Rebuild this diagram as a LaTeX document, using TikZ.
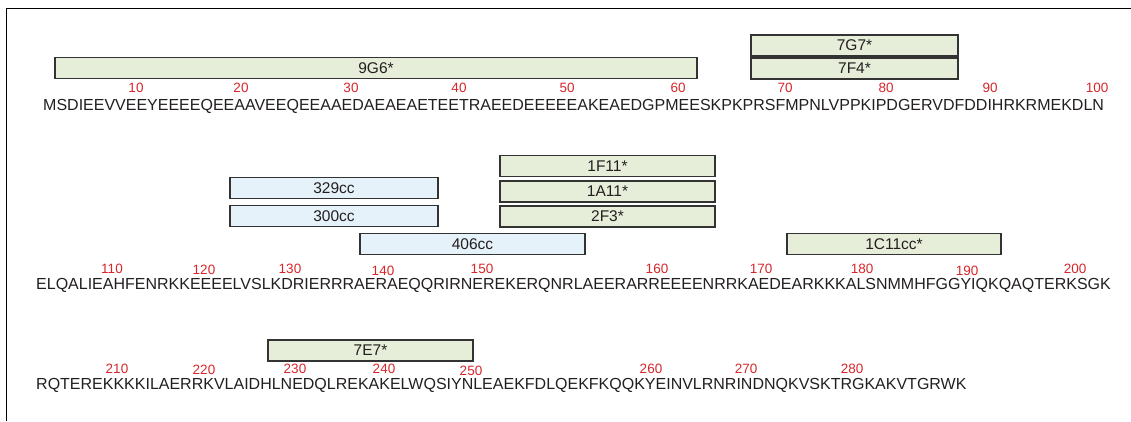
\documentclass[tikz,border=0pt]{standalone}
\usepackage{fontspec}
\setmainfont{Liberation Sans}
\definecolor{seqtext}{HTML}{231F20}
\definecolor{numred}{HTML}{D7262B}
\definecolor{grfill}{HTML}{E6EDD8}
\definecolor{blfill}{HTML}{E6F2FA}
\definecolor{boxline}{HTML}{333333}
\begin{document}
\begin{tikzpicture}[x=1pt,y=-1pt,
  seq/.style={anchor=base west, inner sep=0pt, font=\fontsize{16}{16}\selectfont, text=seqtext},
  num/.style={anchor=base, inner sep=0pt, font=\fontsize{13.5}{13.5}\selectfont, text=numred},
  epi/.style={draw=boxline, line width=1.2pt, inner sep=0pt, minimum height=21.5pt,
    font=\fontsize{15.5}{15.5}\selectfont, text=seqtext},
  gbox/.style={epi, fill=grfill},
  bbox/.style={epi, fill=blfill},
  frame/.style={draw=black, line width=1pt}]
\useasboundingbox (0,0) rectangle (1131,421);
\coordinate (fa) at (6,421);
\coordinate (fb) at (6,8);
\coordinate (fc) at (1131,8);
\draw[frame] (fa) -- (fb) -- (fc);

% line 1
\node[gbox, minimum width=642pt] (g9G6) at (376,68) {9G6*};
\node[gbox, minimum width=207pt, minimum height=21pt] (g7G7) at (854.5,45.5) {7G7*};
\node[gbox, minimum width=207pt, minimum height=21pt] (g7F4) at (854.5,68.5) {7F4*};
\foreach \n/\x in {10/136,20/241,30/351,40/459,50/567,60/678,70/785,80/886,90/990,100/1097}
  \node[num] (n\n) at (\x,92) {\n};
\node[seq] (s1) at (43,110) {MSDIEEVVEEYEEEEQEEAAVEEQEEAAEDAEAEAETEETRAEEDEEEEEAKEAEDGPMEESKPKPRSFMPNLVPPKIPDGERVDFDDIHRKRMEKDLN};

% line 2
\node[gbox, minimum width=215pt] (g1F11) at (607.5,166) {1F11*};
\node[gbox, minimum width=215pt, minimum height=21pt] (g1A11) at (607.5,191.5) {1A11*};
\node[gbox, minimum width=215pt, minimum height=21pt] (g2F3) at (607.5,216.5) {2F3*};
\node[bbox, minimum width=208pt] (b329) at (334,188) {329cc};
\node[bbox, minimum width=208pt] (b300) at (334,216) {300cc};
\node[bbox, minimum width=225pt] (b406) at (472.5,244) {406cc};
\node[gbox, minimum width=214pt] (g1C11) at (894,244) {1C11cc*};
\foreach \n/\x/\y in {110/112/273,120/204/274,130/290/273,140/383/275,150/482/273,160/657/273,170/761/273,180/862/273,190/967/275,200/1075/273}
  \node[num] (n\n) at (\x,\y) {\n};
\node[seq] (s2) at (36,289) {ELQALIEAHFENRKKEEEELVSLKDRIERRRAERAEQQRIRNEREKERQNRLAEERARREEEENRRKAEDEARKKKALSNMMHFGGYIQKQAQTERKSGK};

% line 3
\node[gbox, minimum width=205pt, minimum height=21pt] (g7E7) at (370.5,350.5) {7E7*};
\foreach \n/\x/\y in {210/117/373,220/204/374,230/295/373,240/384/373,250/471/375,260/651/373,270/746/373,280/852/373}
  \node[num] (n\n) at (\x,\y) {\n};
\node[seq] (s3) at (36,389) {RQTEREKKKKILAERRKVLAIDHLNEDQLREKAKELWQSIYNLEAEKFDLQEKFKQQKYEINVLRNRINDNQKVSKTRGKAKVTGRWK};
\end{tikzpicture}
\end{document}
